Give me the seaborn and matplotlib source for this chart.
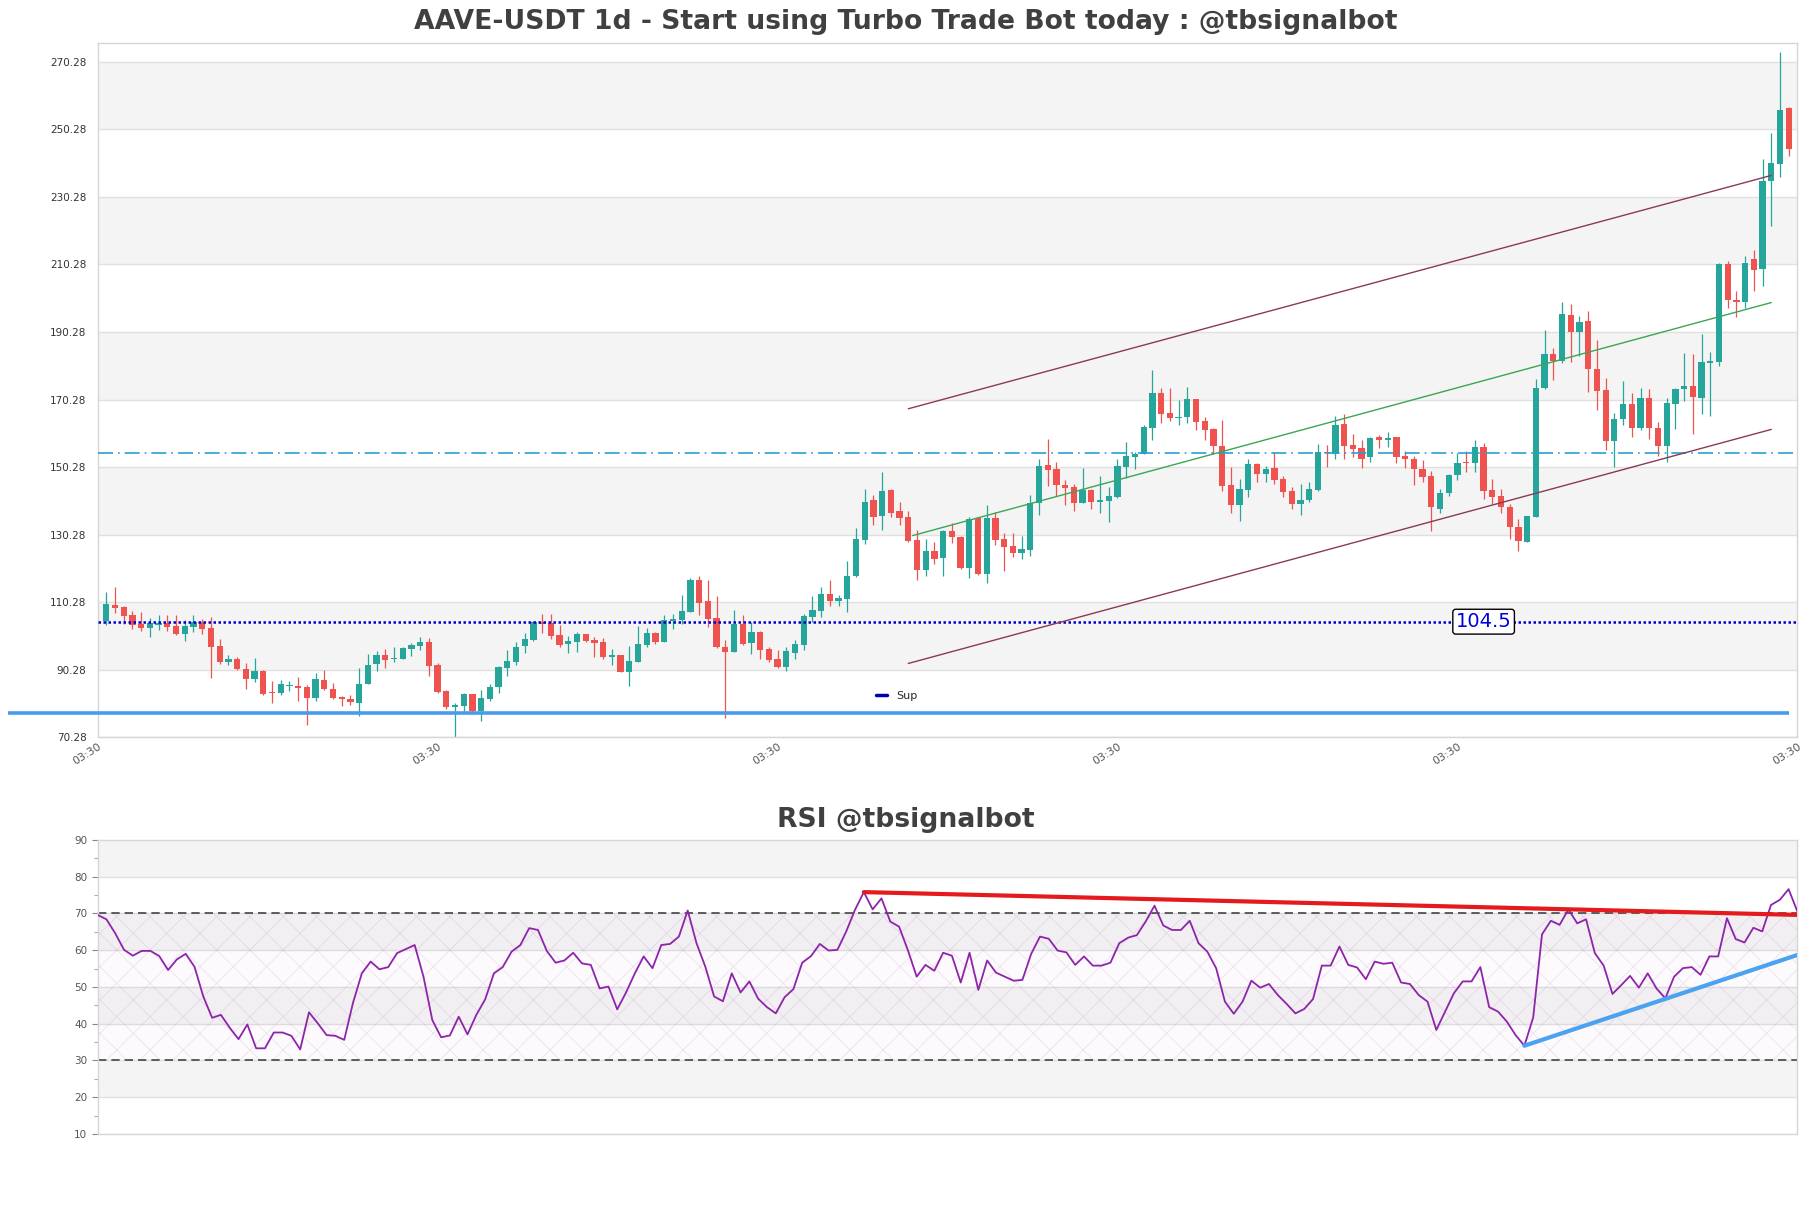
import numpy as np
import pandas as pd
import seaborn as sns
import matplotlib.pyplot as plt
from matplotlib.lines import Line2D

# daily candles
opens = [104.71, 109.48, 108.99, 106.5, 103.81, 102.72, 103.61, 104.21, 103.21, 100.93,
         103.02, 104.51, 102.62, 97.44, 92.67, 93.37, 90.58, 87.49, 89.78, 83.51,
         83.32, 85.4, 85.6, 85.1, 81.82, 87.09, 84.71, 81.92, 81.72, 80.33,
         86.0, 91.97, 94.56, 93.46, 93.46, 96.45, 97.25, 98.44, 91.57, 84.01,
         79.14, 79.43, 83.12, 77.94, 81.52, 85.1, 90.78, 92.57, 97.28, 99.06,
         104.49, 104.10, 100.44, 97.97, 98.56, 100.84, 99.06, 98.46, 94.11, 94.61,
         89.66, 92.63, 97.67, 101.23, 98.56, 104.79, 104.89, 107.36, 116.86, 110.53,
         105.48, 96.98, 95.60, 103.80, 98.26, 101.43, 96.39, 93.42, 91.14, 95.30,
         97.67, 105.98, 107.66, 112.70, 110.72, 111.32, 118.04, 128.82, 140.49, 135.94,
         143.56, 137.33, 135.55, 128.72, 119.92, 125.46, 123.28, 131.30, 129.53, 120.35,
         135.25, 118.67, 135.15, 128.84, 126.86, 124.89, 125.78, 139.69, 150.84, 149.66,
         144.92, 144.33, 139.69, 143.54, 139.99, 140.28, 141.37, 150.35, 153.31, 154.29,
         161.89, 172.25, 166.23, 164.85, 165.05, 170.38, 163.86, 161.50, 156.66, 144.92,
         139.10, 143.54, 151.33, 148.27, 150.15, 146.70, 143.14, 139.39, 140.48, 143.44,
         154.69, 154.29, 162.98, 156.76, 155.87, 153.31, 159.11, 158.27, 159.11, 153.50,
         152.76, 149.79, 147.68, 137.94, 142.60, 148.00, 151.71, 151.38, 156.15, 143.44,
         141.65, 138.58, 132.65, 128.09, 135.50, 173.62, 183.68, 181.77, 195.32, 190.24,
         193.52, 179.23, 173.09, 158.05, 164.41, 168.85, 161.97, 170.76, 161.76, 156.47,
         169.06, 173.40, 174.36, 170.76, 181.24, 181.35, 210.46, 199.87, 199.03, 211.84,
         209.08, 235.02, 240.11, 256.73]
highs = [113.17, 114.86, 109.19, 107.69, 107.49, 105.5, 106.5, 106.4, 106.4, 105.0,
         106.5, 105.2, 105.8, 99.24, 94.76, 94.06, 92.27, 93.66, 90.28, 86.8,
         87.09, 86.99, 87.99, 85.8, 89.38, 90.08, 86.4, 82.62, 82.72, 90.78,
         95.06, 95.85, 96.45, 96.95, 96.95, 98.24, 99.83, 99.63, 92.37, 84.21,
         80.33, 83.41, 83.22, 84.21, 86.1, 91.28, 96.05, 98.54, 101.23, 104.79,
         106.77, 106.77, 103.41, 100.24, 101.33, 101.0, 100.05, 99.65, 96.29, 94.71,
         97.18, 103.21, 102.62, 101.43, 106.47, 106.77, 112.41, 117.55, 118.04, 116.86,
         112.11, 98.96, 107.86, 106.47, 104.30, 101.6, 97.08, 96.09, 97.08, 98.96,
         106.87, 112.21, 114.78, 116.86, 112.41, 122.49, 132.18, 143.85, 142.07, 148.90,
         143.8, 140.00, 137.23, 131.69, 129.02, 128.23, 131.69, 133.87, 129.8, 135.55,
         135.55, 139.0, 137.03, 130.91, 130.71, 129.73, 142.16, 152.81, 158.54, 151.83,
         146.40, 145.22, 149.95, 143.74, 147.58, 144.43, 152.81, 157.65, 154.79, 162.88,
         178.96, 173.63, 173.63, 170.08, 173.93, 170.57, 165.05, 161.79, 164.16, 150.35,
         146.89, 152.81, 151.53, 150.64, 154.69, 147.58, 144.33, 145.31, 145.91, 157.06,
         156.76, 165.34, 166.03, 160.02, 158.24, 159.23, 159.85, 160.60, 159.32, 155.09,
         153.50, 152.44, 149.27, 143.66, 148.21, 154.56, 155.09, 158.27, 157.53, 146.83,
         143.66, 139.21, 134.77, 135.8, 176.48, 190.87, 185.58, 199.03, 198.50, 195.00,
         196.38, 187.91, 176.79, 166.21, 175.73, 172.35, 173.62, 173.30, 163.56, 170.76,
         173.62, 183.99, 183.68, 189.82, 184.31, 210.78, 211.20, 202.41, 212.79, 214.59,
         241.37, 249.31, 273.13, 256.94]
lows = [103.51, 107.2, 103.81, 102.22, 101.82, 100.03, 102.02, 101.82, 100.53, 98.84,
        101.52, 100.83, 87.79, 91.87, 91.67, 90.08, 84.51, 86.6, 82.82, 80.33,
        82.92, 83.91, 81.13, 73.76, 81.13, 84.31, 81.52, 79.43, 79.93, 76.45,
        85.9, 89.88, 90.68, 92.57, 93.37, 94.26, 96.05, 88.29, 83.51, 78.64,
        70.48, 78.14, 77.64, 75.15, 80.93, 83.51, 88.29, 91.57, 95.10, 98.86,
        101.23, 99.25, 97.08, 95.30, 95.60, 98.36, 94.11, 93.42, 91.54, 89.46,
        85.51, 92.43, 97.08, 97.77, 98.46, 102.42, 103.80, 107.26, 106.57, 103.01,
        96.68, 76.12, 95.40, 97.67, 95.00, 93.42, 92.43, 90.65, 89.96, 93.52,
        96.19, 104.40, 105.78, 109.24, 109.24, 107.46, 117.84, 127.63, 133.07, 131.79,
        135.45, 133.27, 128.03, 116.96, 118.14, 121.70, 118.14, 127.85, 120.06, 117.49,
        118.38, 116.01, 127.16, 119.56, 123.71, 123.11, 123.90, 136.24, 144.62, 141.66,
        139.00, 137.32, 139.5, 137.81, 136.63, 134.07, 141.2, 147.19, 149.75, 154.10,
        158.24, 163.27, 164.06, 162.78, 163.27, 161.30, 158.24, 154.19, 143.14, 136.73,
        134.36, 141.47, 145.91, 145.91, 145.41, 141.47, 138.01, 136.14, 140.09, 143.24,
        150.35, 152.72, 152.72, 153.31, 150.15, 151.83, 155.83, 156.15, 151.39, 150.11,
        144.97, 145.88, 131.38, 136.56, 141.86, 146.41, 148.74, 148.74, 140.80, 139.21,
        136.78, 128.84, 125.44, 128.0, 135.4, 173.30, 175.95, 181.03, 181.35, 183.15,
        172.56, 167.26, 155.41, 150.33, 162.82, 159.32, 161.12, 158.58, 153.50, 151.92,
        161.44, 169.91, 160.17, 166.00, 165.47, 180.29, 197.44, 194.79, 197.44, 202.41,
        203.79, 221.58, 236.08, 242.43]
closes = [109.88, 108.69, 106.2, 103.51, 102.62, 104.01, 104.21, 103.02, 100.83, 103.21,
          104.51, 102.42, 97.05, 92.47, 93.46, 90.38, 87.59, 89.78, 83.22, 83.32,
          85.9, 85.8, 84.91, 81.82, 87.39, 84.51, 81.82, 81.72, 80.63, 86.1,
          91.77, 94.56, 93.17, 93.76, 96.65, 97.54, 98.44, 91.37, 83.81, 79.14,
          79.73, 83.22, 77.94, 82.02, 85.3, 90.98, 92.77, 97.15, 99.25, 104.49,
          103.90, 100.24, 97.67, 98.76, 100.84, 98.86, 98.26, 94.01, 94.51, 89.56,
          92.83, 97.87, 101.13, 98.56, 104.89, 105.19, 107.66, 116.86, 110.13, 105.39,
          96.98, 95.60, 103.70, 97.97, 101.43, 96.09, 93.12, 91.14, 95.79, 97.87,
          106.18, 107.96, 112.70, 110.63, 111.51, 118.04, 129.02, 140.00, 135.64, 143.26,
          136.83, 135.35, 128.53, 119.92, 125.46, 123.18, 131.49, 129.63, 120.35, 134.86,
          118.67, 135.15, 128.64, 126.67, 124.89, 125.88, 139.79, 150.54, 149.46, 144.92,
          144.03, 139.69, 143.54, 139.99, 140.68, 141.66, 150.54, 153.50, 154.29, 162.09,
          172.25, 166.03, 164.85, 165.05, 170.38, 163.67, 161.30, 156.46, 144.72, 139.10,
          143.74, 151.14, 148.27, 149.85, 146.50, 142.95, 139.30, 140.48, 143.74, 154.69,
          154.49, 162.68, 156.56, 155.77, 152.72, 158.83, 158.27, 159.01, 153.18, 152.66,
          149.58, 147.47, 138.36, 142.60, 147.89, 151.60, 151.38, 156.15, 143.23, 141.33,
          138.36, 132.65, 128.31, 135.71, 173.62, 183.68, 181.77, 195.53, 190.24, 193.20,
          179.23, 172.88, 158.05, 164.41, 168.85, 161.97, 170.76, 161.97, 156.47, 169.17,
          173.30, 174.25, 170.97, 181.35, 181.56, 210.46, 199.87, 199.03, 210.67, 208.77,
          235.02, 240.32, 255.98, 244.55]

rsi = [69.6, 68.4, 64.6, 60.1, 58.5, 59.8, 59.8, 58.4, 54.6, 57.5,
       59.0, 55.5, 47.4, 41.6, 42.4, 38.9, 35.8, 39.8, 33.3, 33.3,
       37.6, 37.6, 36.7, 33.0, 43.1, 40.1, 36.9, 36.7, 35.6, 45.7,
       53.7, 56.9, 54.8, 55.4, 59.2, 60.3, 61.4, 52.8, 41.0, 36.3,
       36.8, 41.9, 37.1, 42.4, 46.6, 53.7, 55.4, 59.6, 61.4, 66.0,
       65.5, 59.8, 56.6, 57.2, 59.3, 56.4, 56.0, 49.6, 50.1, 43.9,
       48.5, 53.7, 58.3, 55.1, 61.4, 61.7, 63.7, 70.8, 61.9, 55.5,
       47.4, 46.1, 53.7, 48.5, 51.5, 46.8, 44.5, 42.8, 47.2, 49.4,
       56.6, 58.4, 61.7, 59.9, 60.1, 65.1, 71.0, 75.8, 71.1, 74.1,
       67.8, 66.4, 60.0, 52.8, 56.0, 54.4, 59.3, 58.5, 51.2, 59.3,
       49.2, 57.2, 53.9, 52.8, 51.7, 51.9, 59.0, 63.7, 63.1, 59.9,
       59.4, 56.0, 58.3, 55.8, 55.8, 56.6, 61.9, 63.4, 64.1, 67.8,
       72.1, 66.7, 65.5, 65.5, 68.0, 61.9, 59.6, 55.1, 46.0, 42.7,
       46.0, 51.7, 49.8, 50.8, 47.8, 45.4, 42.8, 44.0, 46.7, 55.8,
       55.8, 61.0, 56.0, 55.3, 52.1, 56.9, 56.3, 56.6, 51.2, 50.8,
       47.8, 46.0, 38.3, 43.3, 48.3, 51.5, 51.5, 55.4, 44.5, 43.3,
       40.6, 36.9, 34.0, 41.7, 64.3, 68.0, 66.9, 71.1, 67.3, 68.4,
       59.2, 55.8, 48.1, 50.5, 53.0, 49.8, 53.7, 49.6, 46.9, 52.8,
       55.1, 55.4, 53.3, 58.3, 58.3, 68.7, 63.0, 62.1, 66.1, 65.1,
       72.3, 73.7, 76.6, 70.5]

# levels and trend lines (candle index, price)
resist_level = 154.4
sup_level = 104.5
low_level = 77.45
channel_x = [92, 191]
channel_up = [167.55, 236.65]
channel_mid = [130.0, 199.0]
channel_low = [92.13, 161.44]
rsi_red_x = [87, 193]
rsi_red_y = [75.8, 69.6]
rsi_blue_x = [162, 193]
rsi_blue_y = [34.0, 58.7]

df = pd.DataFrame({"open": opens, "high": highs, "low": lows, "close": closes})
df["idx"] = np.arange(len(df))
N = len(df)

sns.set_theme(style="white")
plt.rcParams['font.family'] = ['DejaVu Sans']
plt.rcParams['hatch.linewidth'] = 0.5

fig = plt.figure(figsize=(18.11, 12.08), dpi=100)
ax = fig.add_axes([0.0539, 0.3897, 0.9386, 0.5748])
ax2 = fig.add_axes([0.0539, 0.0613, 0.9386, 0.2434])

grid_c = "#e0e0e0"
band_c = "#f4f4f4"
spine_c = "#d6d6d6"

# ---- price panel ----
ymin, ymax = 70.28, 275.9
yt = [70.28 + 20 * k for k in range(11)]
for k in range(10):
    if k % 2 == 1:
        ax.axhspan(yt[k], yt[k + 1], color=band_c, zorder=0, lw=0)
for v in yt:
    ax.axhline(v, color=grid_c, lw=1, zorder=0.5)

up = df["close"] >= df["open"]
cols = np.where(up, "#26a69a", "#ef5350")
ax.vlines(df["idx"], df["low"], df["high"], colors=cols, lw=0.9, zorder=2)
body_lo = np.minimum(df["open"], df["close"])
body_h = np.maximum((df["close"] - df["open"]).abs(), 0.35)
ax.bar(df["idx"], body_h, bottom=body_lo, width=0.72, color=cols, lw=0, zorder=3)

ax.axhline(resist_level, color="#2a9fd6", lw=1.2, ls=(0, (9, 3, 1, 3)), zorder=4)
ax.axhline(sup_level, color="#0000cc", lw=1.8, ls=(0, (1, 1)), zorder=4)
ax.plot([-11.3, N - 1], [low_level, low_level], color="#4a9bea", lw=2.6,
        solid_capstyle="butt", clip_on=False, zorder=4)
ax.plot(channel_x, channel_up, color="#8b3a55", lw=1.0, zorder=4)
ax.plot([92.5, channel_x[1]], channel_mid, color="#3aa655", lw=1.0, zorder=4)
ax.plot(channel_x, channel_low, color="#8b3a55", lw=1.0, zorder=4)

ax.text(158, sup_level, "104.5", color="#0000dd", fontsize=14, ha="center", va="center",
        zorder=6, bbox=dict(boxstyle="round,pad=0.15", fc="white", ec="black", lw=1))

ax.legend(handles=[Line2D([0], [0], color="#0000b0", lw=2.5)], labels=["Sup"],
          loc="center left", bbox_to_anchor=(0.452, 0.06), frameon=False,
          fontsize=8, handlelength=1.0, handletextpad=0.8)

ax.set_xlim(-1, N)
ax.set_ylim(ymin, ymax)
ax.set_yticks(yt)
ax.set_yticklabels([f"{v:.2f}" for v in yt])
ax.set_xticks(np.linspace(-1, N, 6))
ax.set_xticklabels(["03:30"] * 6, rotation=32, ha="right", rotation_mode="anchor")
ax.tick_params(axis="y", length=0, pad=8, labelsize=7.5, labelcolor="#333333")
ax.tick_params(axis="x", length=0, pad=3, labelsize=8, labelcolor="#555555")
for s in ax.spines.values():
    s.set_color(spine_c)
    s.set_linewidth(1)

# ---- RSI panel ----
for lo in [20, 40, 60, 80]:
    ax2.axhspan(lo, lo + 10, color=band_c, zorder=0, lw=0)
for v in range(20, 90, 10):
    ax2.axhline(v, color=grid_c, lw=1, zorder=0.5)
ax2.fill_between([0, N - 1], 30, 70, facecolor=(0.55, 0.2, 0.6, 0.025),
                 edgecolor=(0.65, 0.4, 0.7, 0.2), hatch="x", lw=0, zorder=1)
ax2.axhline(70, color="#444444", lw=1.2, ls=(0, (5, 3)), zorder=2)
ax2.axhline(30, color="#444444", lw=1.2, ls=(0, (5, 3)), zorder=2)
sns.lineplot(x=df["idx"], y=rsi, ax=ax2, color="#8e24aa", lw=1.3, zorder=3)
ax2.plot(rsi_red_x, rsi_red_y, color="#e41a1c", lw=3, zorder=4)
ax2.plot(rsi_blue_x, rsi_blue_y, color="#4aa3f0", lw=3, zorder=4)

ax2.set_xlim(0, N - 1)
ax2.set_ylim(10, 90)
ax2.set_yticks(range(10, 91, 10))
ax2.set_yticks(range(15, 90, 10), minor=True)
ax2.set_xticks([])
ax2.set_xlabel("")
ax2.set_ylabel("")
ax2.tick_params(axis="y", which="major", length=4, width=0.8, color="#888888",
                labelsize=7.5, labelcolor="#555555", left=True)
ax2.tick_params(axis="y", which="minor", length=3, width=0.8, color="#aaaaaa", left=True)
for s in ax2.spines.values():
    s.set_color(spine_c)
    s.set_linewidth(1)

fig.text(0.5, 1 - 22 / 1208, "AAVE-USDT 1d - Start using Turbo Trade Bot today : @tbsignalbot",
         ha="center", va="center", fontsize=19.2, fontweight="bold", color="#404040")
fig.text(0.5, 1 - 820 / 1208, "RSI @tbsignalbot", ha="center", va="center",
         fontsize=19.2, fontweight="bold", color="#404040")

fig.savefig("out.png", dpi=100)
